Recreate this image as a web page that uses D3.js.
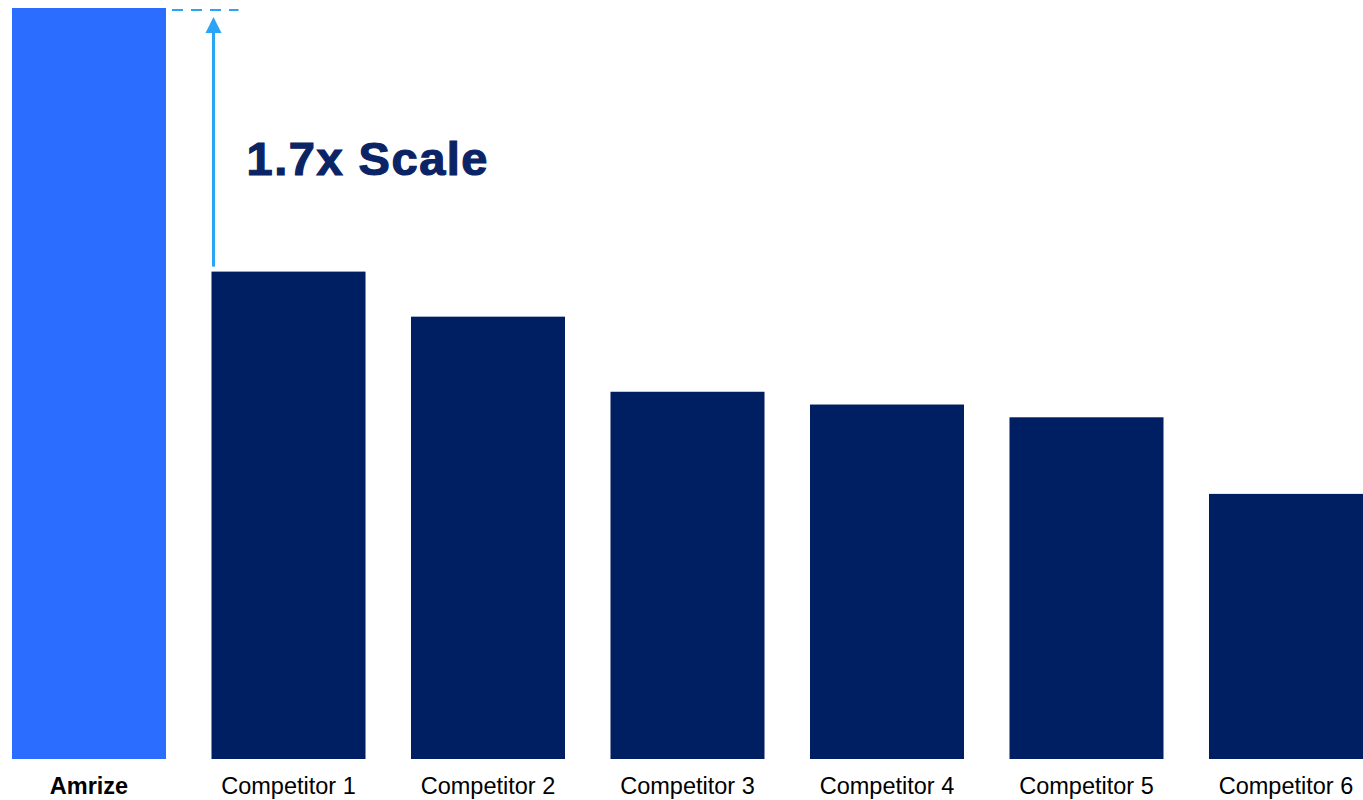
<!DOCTYPE html>
<html>
<head>
<meta charset="utf-8">
<script src="https://cdn.jsdelivr.net/npm/d3@7"></script>
<style>
  html, body { margin: 0; padding: 0; background: #fff; }
  svg { display: block; font-family: "Liberation Sans", Arial, sans-serif; }
</style>
</head>
<body>
<svg id="chart" width="1363" height="800"></svg>
<script>
// relative scale, Amrize = 100
var categories = ['Amrize', 'Competitor 1', 'Competitor 2', 'Competitor 3', 'Competitor 4', 'Competitor 5', 'Competitor 6'];
var values = [100, 64.9, 58.9, 48.9, 47.2, 45.5, 35.3];
var callout = '1.7x Scale';

var svg = d3.select('#chart');
var baseY = 759, topY = 8;

var x = d3.scaleBand()
  .domain(categories)
  .range([12, 1363])
  .paddingInner(0.228)
  .paddingOuter(0);

var y = d3.scaleLinear()
  .domain([0, 100])
  .range([baseY, topY]);

svg.selectAll('rect.bar')
  .data(categories)
  .enter().append('rect')
  .attr('class', 'bar')
  .attr('x', function(d) { return x(d); })
  .attr('width', x.bandwidth())
  .attr('y', function(d, i) { return y(values[i]); })
  .attr('height', function(d, i) { return baseY - y(values[i]); })
  .attr('fill', function(d, i) { return i === 0 ? '#2b6dff' : '#001e62'; });

// category labels
svg.selectAll('text.cat')
  .data(categories)
  .enter().append('text')
  .attr('class', 'cat')
  .attr('x', function(d) { return x(d) + x.bandwidth() / 2; })
  .attr('y', 794)
  .attr('text-anchor', 'middle')
  .style('font-size', '23.5px')
  .style('font-weight', function(d, i) { return i === 0 ? 'bold' : 'normal'; })
  .attr('fill', '#000')
  .text(function(d) { return d; });

// scale callout: dashed line at top of Amrize, arrow up from competitor 1
var c1 = categories[1];
var ax = x(c1) + 2;
var lineCol = '#2aa4f4';
var g = svg.append('g');

g.append('line')
  .attr('x1', x(categories[0]) + x.bandwidth() + 6)
  .attr('x2', x(c1) + 27)
  .attr('y1', y(values[0]) + 2)
  .attr('y2', y(values[0]) + 2)
  .attr('stroke', lineCol)
  .attr('stroke-width', 2)
  .style('stroke-dasharray', '11, 8');

g.append('line')
  .attr('x1', ax).attr('x2', ax)
  .attr('y1', y(values[1]) - 5)
  .attr('y2', y(values[0]) + 24)
  .attr('stroke', lineCol)
  .attr('stroke-width', 3);

var tipY = y(values[0]) + 9;
g.append('path')
  .attr('d', 'M' + ax + ',' + tipY + 'L' + (ax - 8) + ',' + (tipY + 16) + 'L' + (ax + 8) + ',' + (tipY + 16) + 'Z')
  .attr('fill', lineCol);

g.append('text')
  .attr('x', ax + 33)
  .attr('y', 175)
  .style('font-size', '47px')
  .style('font-weight', 'bold')
  .attr('fill', '#0a2466')
  .attr('stroke', '#0a2466')
  .attr('stroke-width', 1.2)
  .attr('textLength', 241)
  .text(callout);
</script>
</body>
</html>
